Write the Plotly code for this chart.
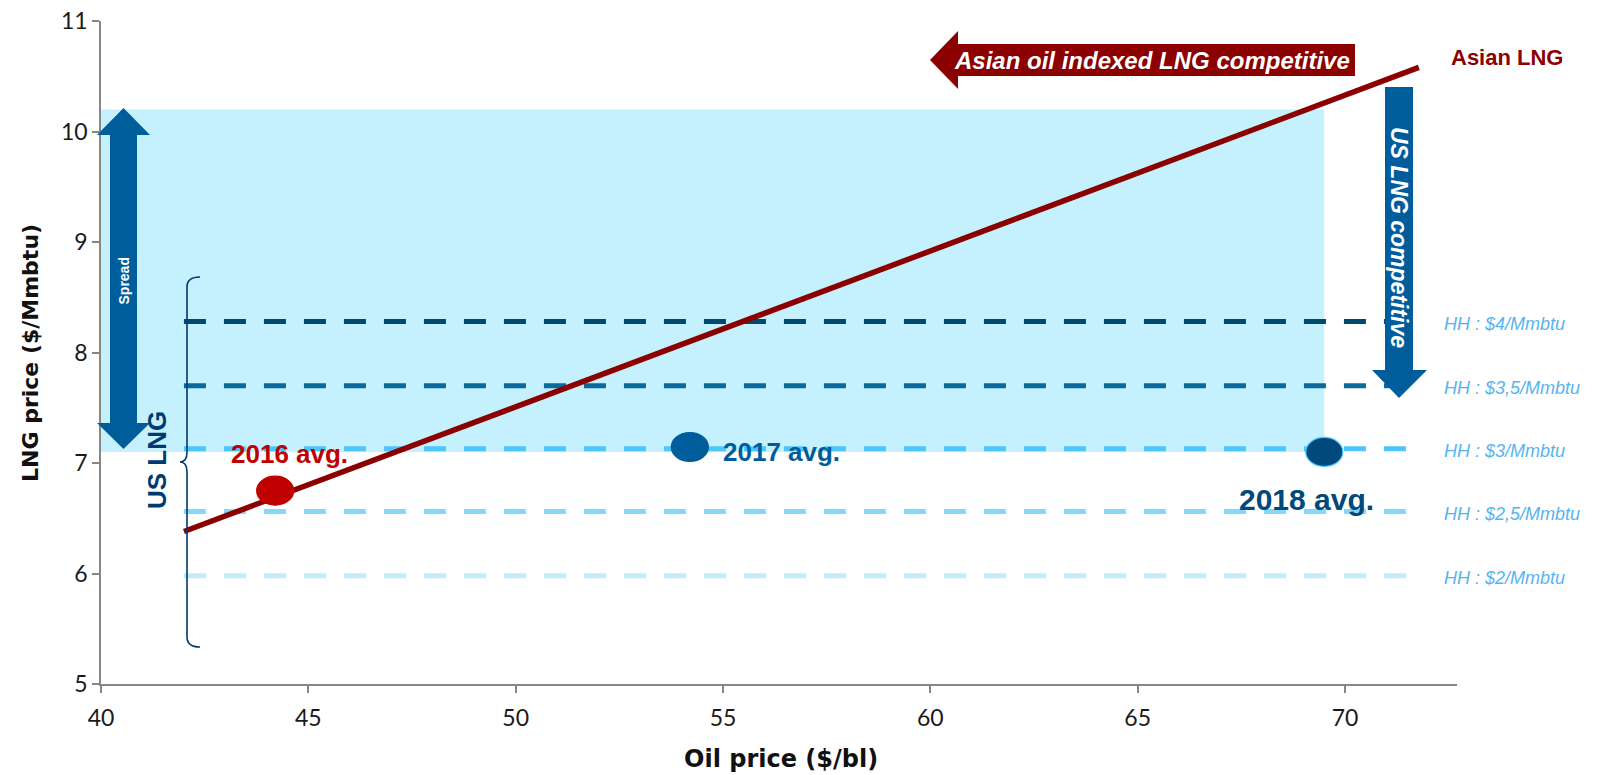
import plotly.graph_objects as go

# ---- axes -------------------------------------------------------------
X_RANGE = [40, 72.7]
Y_RANGE = [5, 11]
x_ticks = [40, 45, 50, 55, 60, 65, 70]
y_ticks = [5, 6, 7, 8, 9, 10, 11]

# ---- Asian oil-indexed LNG price -------------------------------------
asian_oil = [42.0, 71.78]
asian_lng = [6.38, 10.58]

# ---- US LNG delivered cost for several Henry Hub prices ---------------
hh_labels = ["HH : $4/Mmbtu", "HH : $3,5/Mmbtu", "HH : $3/Mmbtu",
             "HH : $2,5/Mmbtu", "HH : $2/Mmbtu"]
hh_lng_price = [8.28, 7.70, 7.13, 6.56, 5.98]
hh_colors = ["#004a6e", "#0a6b9b", "#4cc6fb", "#85d7fb", "#c4ebfb"]
hh_oil_span = [42.0, 71.7]

# ---- yearly averages --------------------------------------------------
years = ["2016 avg.", "2017 avg.", "2018 avg."]
avg_oil = [44.2, 54.2, 69.5]
avg_lng = [6.75, 7.145, 7.10]
avg_colors = ["#c00000", "#005d9c", "#00497a"]

# ---- shaded zone where US LNG beats oil-indexed LNG -------------------
zone_oil = [40, 69.5]
zone_lng = [7.1, 10.2]

# ---- page geometry (pixels) -------------------------------------------
FIG_W, FIG_H = 1612, 775
L, R, T, B = 101, 155, 21, 91
W, H = FIG_W - L - R, FIG_H - T - B


def fx(px):
    return (px - L) / W


def fy(py):
    return 1 - (py - T) / H


def poly(points):
    return "M " + " L ".join(f"{fx(x):.5f},{fy(y):.5f}" for x, y in points) + " Z"


DARK_RED = "#8b0000"
ARROW_BLUE = "#005d9c"
NAVY = "#003a70"

fig = go.Figure()

# HH dashed levels
for lab, lvl, col in zip(hh_labels, hh_lng_price, hh_colors):
    fig.add_trace(go.Scatter(
        x=hh_oil_span, y=[lvl, lvl], mode="lines",
        line=dict(color=col, width=5, dash="22px,18px"),
        name=lab, showlegend=False, hoverinfo="skip"))

# Asian LNG line
fig.add_trace(go.Scatter(
    x=asian_oil, y=asian_lng, mode="lines",
    line=dict(color=DARK_RED, width=5.5),
    name="Asian LNG", showlegend=False))

shapes = []
# shaded zone
shapes.append(dict(type="rect", xref="x", yref="y",
                   x0=zone_oil[0], x1=zone_oil[1], y0=zone_lng[0], y1=zone_lng[1],
                   fillcolor="#c5f1fe", line=dict(width=0), layer="below"))

# yearly average ellipses, anchored at their data values
for xo, yl, col, yr in zip(avg_oil, avg_lng, avg_colors, years):
    outline = "#4cc6fb" if yr.startswith("2018") else col
    shapes.append(dict(type="circle", xref="x", yref="y",
                       xsizemode="pixel", ysizemode="pixel",
                       xanchor=xo, yanchor=yl,
                       x0=-18.5, x1=18.5, y0=-14.5, y1=14.5,
                       fillcolor=col, line=dict(color=outline, width=1.2),
                       layer="above"))

# "Asian oil indexed LNG competitive" arrow (pointing left)
shapes.append(dict(type="path", xref="paper", yref="paper", layer="above",
                   path=poly([(930, 60), (958, 31), (958, 44), (1355, 44),
                              (1355, 76), (958, 76), (958, 89)]),
                   fillcolor=DARK_RED, line=dict(width=0)))

# "US LNG competitive" arrow (pointing down)
shapes.append(dict(type="path", xref="paper", yref="paper", layer="above",
                   path=poly([(1385, 87), (1413, 87), (1413, 370), (1427, 370),
                              (1399, 398), (1372, 370), (1385, 370)]),
                   fillcolor=ARROW_BLUE, line=dict(width=0)))

# "Spread" double-headed arrow
shapes.append(dict(type="path", xref="paper", yref="paper", layer="above",
                   path=poly([(123.5, 108), (150, 135), (137, 135), (137, 423),
                              (150, 423), (123.5, 449), (97, 423), (110, 423),
                              (110, 135), (97, 135)]),
                   fillcolor=ARROW_BLUE, line=dict(width=0)))

# US LNG brace
bx = 187
brace = (f"M {fx(200):.5f},{fy(277):.5f} "
         f"Q {fx(bx):.5f},{fy(277):.5f} {fx(bx):.5f},{fy(287):.5f} "
         f"L {fx(bx):.5f},{fy(452):.5f} "
         f"Q {fx(bx):.5f},{fy(462):.5f} {fx(180):.5f},{fy(462):.5f} "
         f"Q {fx(bx):.5f},{fy(462):.5f} {fx(bx):.5f},{fy(472):.5f} "
         f"L {fx(bx):.5f},{fy(637):.5f} "
         f"Q {fx(bx):.5f},{fy(647):.5f} {fx(200):.5f},{fy(647):.5f}")
shapes.append(dict(type="path", xref="paper", yref="paper", layer="above",
                   path=brace, line=dict(color=NAVY, width=1.6)))

annotations = []

# HH labels on the right
for lab, lvl in zip(hh_labels, hh_lng_price):
    annotations.append(dict(
        x=fx(1442), xref="paper", y=lvl, yref="y", yshift=-2,
        text=lab, showarrow=False, xanchor="left", yanchor="middle",
        font=dict(family="Liberation Sans", size=18, color="#56b4f0", style="italic")))

# yearly average labels
year_label_pos = [
    dict(xshift=14, yshift=37, xanchor="center", size=26),
    dict(xshift=31, yshift=-5, xanchor="left", size=26),
    dict(xshift=-18, yshift=-48, xanchor="center", size=30),
]
for yr, xo, yl, col, pos in zip(years, avg_oil, avg_lng, avg_colors, year_label_pos):
    annotations.append(dict(
        x=xo, y=yl, xref="x", yref="y", text=yr, showarrow=False,
        xanchor=pos["xanchor"], yanchor="middle",
        xshift=pos["xshift"], yshift=pos["yshift"],
        font=dict(family="Liberation Sans", size=pos["size"], color=col, weight="bold")))

# arrow captions
annotations.append(dict(
    x=fx(1152), y=fy(60), xref="paper", yref="paper", showarrow=False,
    text="Asian oil indexed LNG competitive", xanchor="center", yanchor="middle",
    font=dict(family="Liberation Sans", size=24, color="white", weight="bold", style="italic")))
annotations.append(dict(
    x=fx(1399), y=fy(237), xref="paper", yref="paper", showarrow=False,
    text="US LNG competitive", textangle=90, xanchor="center", yanchor="middle",
    font=dict(family="Liberation Sans", size=23, color="white", weight="bold", style="italic")))
annotations.append(dict(
    x=fx(123.5), y=fy(281), xref="paper", yref="paper", showarrow=False,
    text="Spread", textangle=-90, xanchor="center", yanchor="middle",
    font=dict(family="Liberation Sans", size=14, color="white", weight="bold")))

# series captions
annotations.append(dict(
    x=fx(1507), y=fy(57), xref="paper", yref="paper", showarrow=False,
    text="Asian LNG", xanchor="center", yanchor="middle",
    font=dict(family="Liberation Sans", size=22, color=DARK_RED, weight="bold")))
annotations.append(dict(
    x=fx(157), y=fy(460), xref="paper", yref="paper", showarrow=False,
    text="US LNG", textangle=-90, xanchor="center", yanchor="middle",
    font=dict(family="Liberation Sans", size=26, color=NAVY, weight="bold")))

# axis titles
annotations.append(dict(
    x=fx(30), y=fy(353), xref="paper", yref="paper", showarrow=False,
    text="LNG price ($/Mmbtu)", textangle=-90, xanchor="center", yanchor="middle",
    font=dict(family="DejaVu Sans", size=22, color="#111111", weight="bold")))
annotations.append(dict(
    x=fx(781), y=fy(759), xref="paper", yref="paper", showarrow=False,
    text="Oil price ($/bl)", xanchor="center", yanchor="middle",
    font=dict(family="DejaVu Sans", size=24, color="#111111", weight="bold")))

axis_common = dict(
    showgrid=False, zeroline=False, showline=True,
    linecolor="#868686", linewidth=1.5,
    ticks="outside", ticklen=7, tickcolor="#868686", tickwidth=1.5,
    tickfont=dict(family="Lato", size=23, color="#1a1a1a"),
)

fig.update_layout(
    width=FIG_W, height=FIG_H,
    margin=dict(l=L, r=R, t=T, b=B, autoexpand=False),
    paper_bgcolor="white", plot_bgcolor="white",
    xaxis=dict(range=X_RANGE, tickvals=x_ticks, ticklabelstandoff=6, **axis_common),
    yaxis=dict(range=Y_RANGE, tickvals=y_ticks, **axis_common),
    shapes=shapes, annotations=annotations,
    showlegend=False,
)

fig.write_html("out.html")
